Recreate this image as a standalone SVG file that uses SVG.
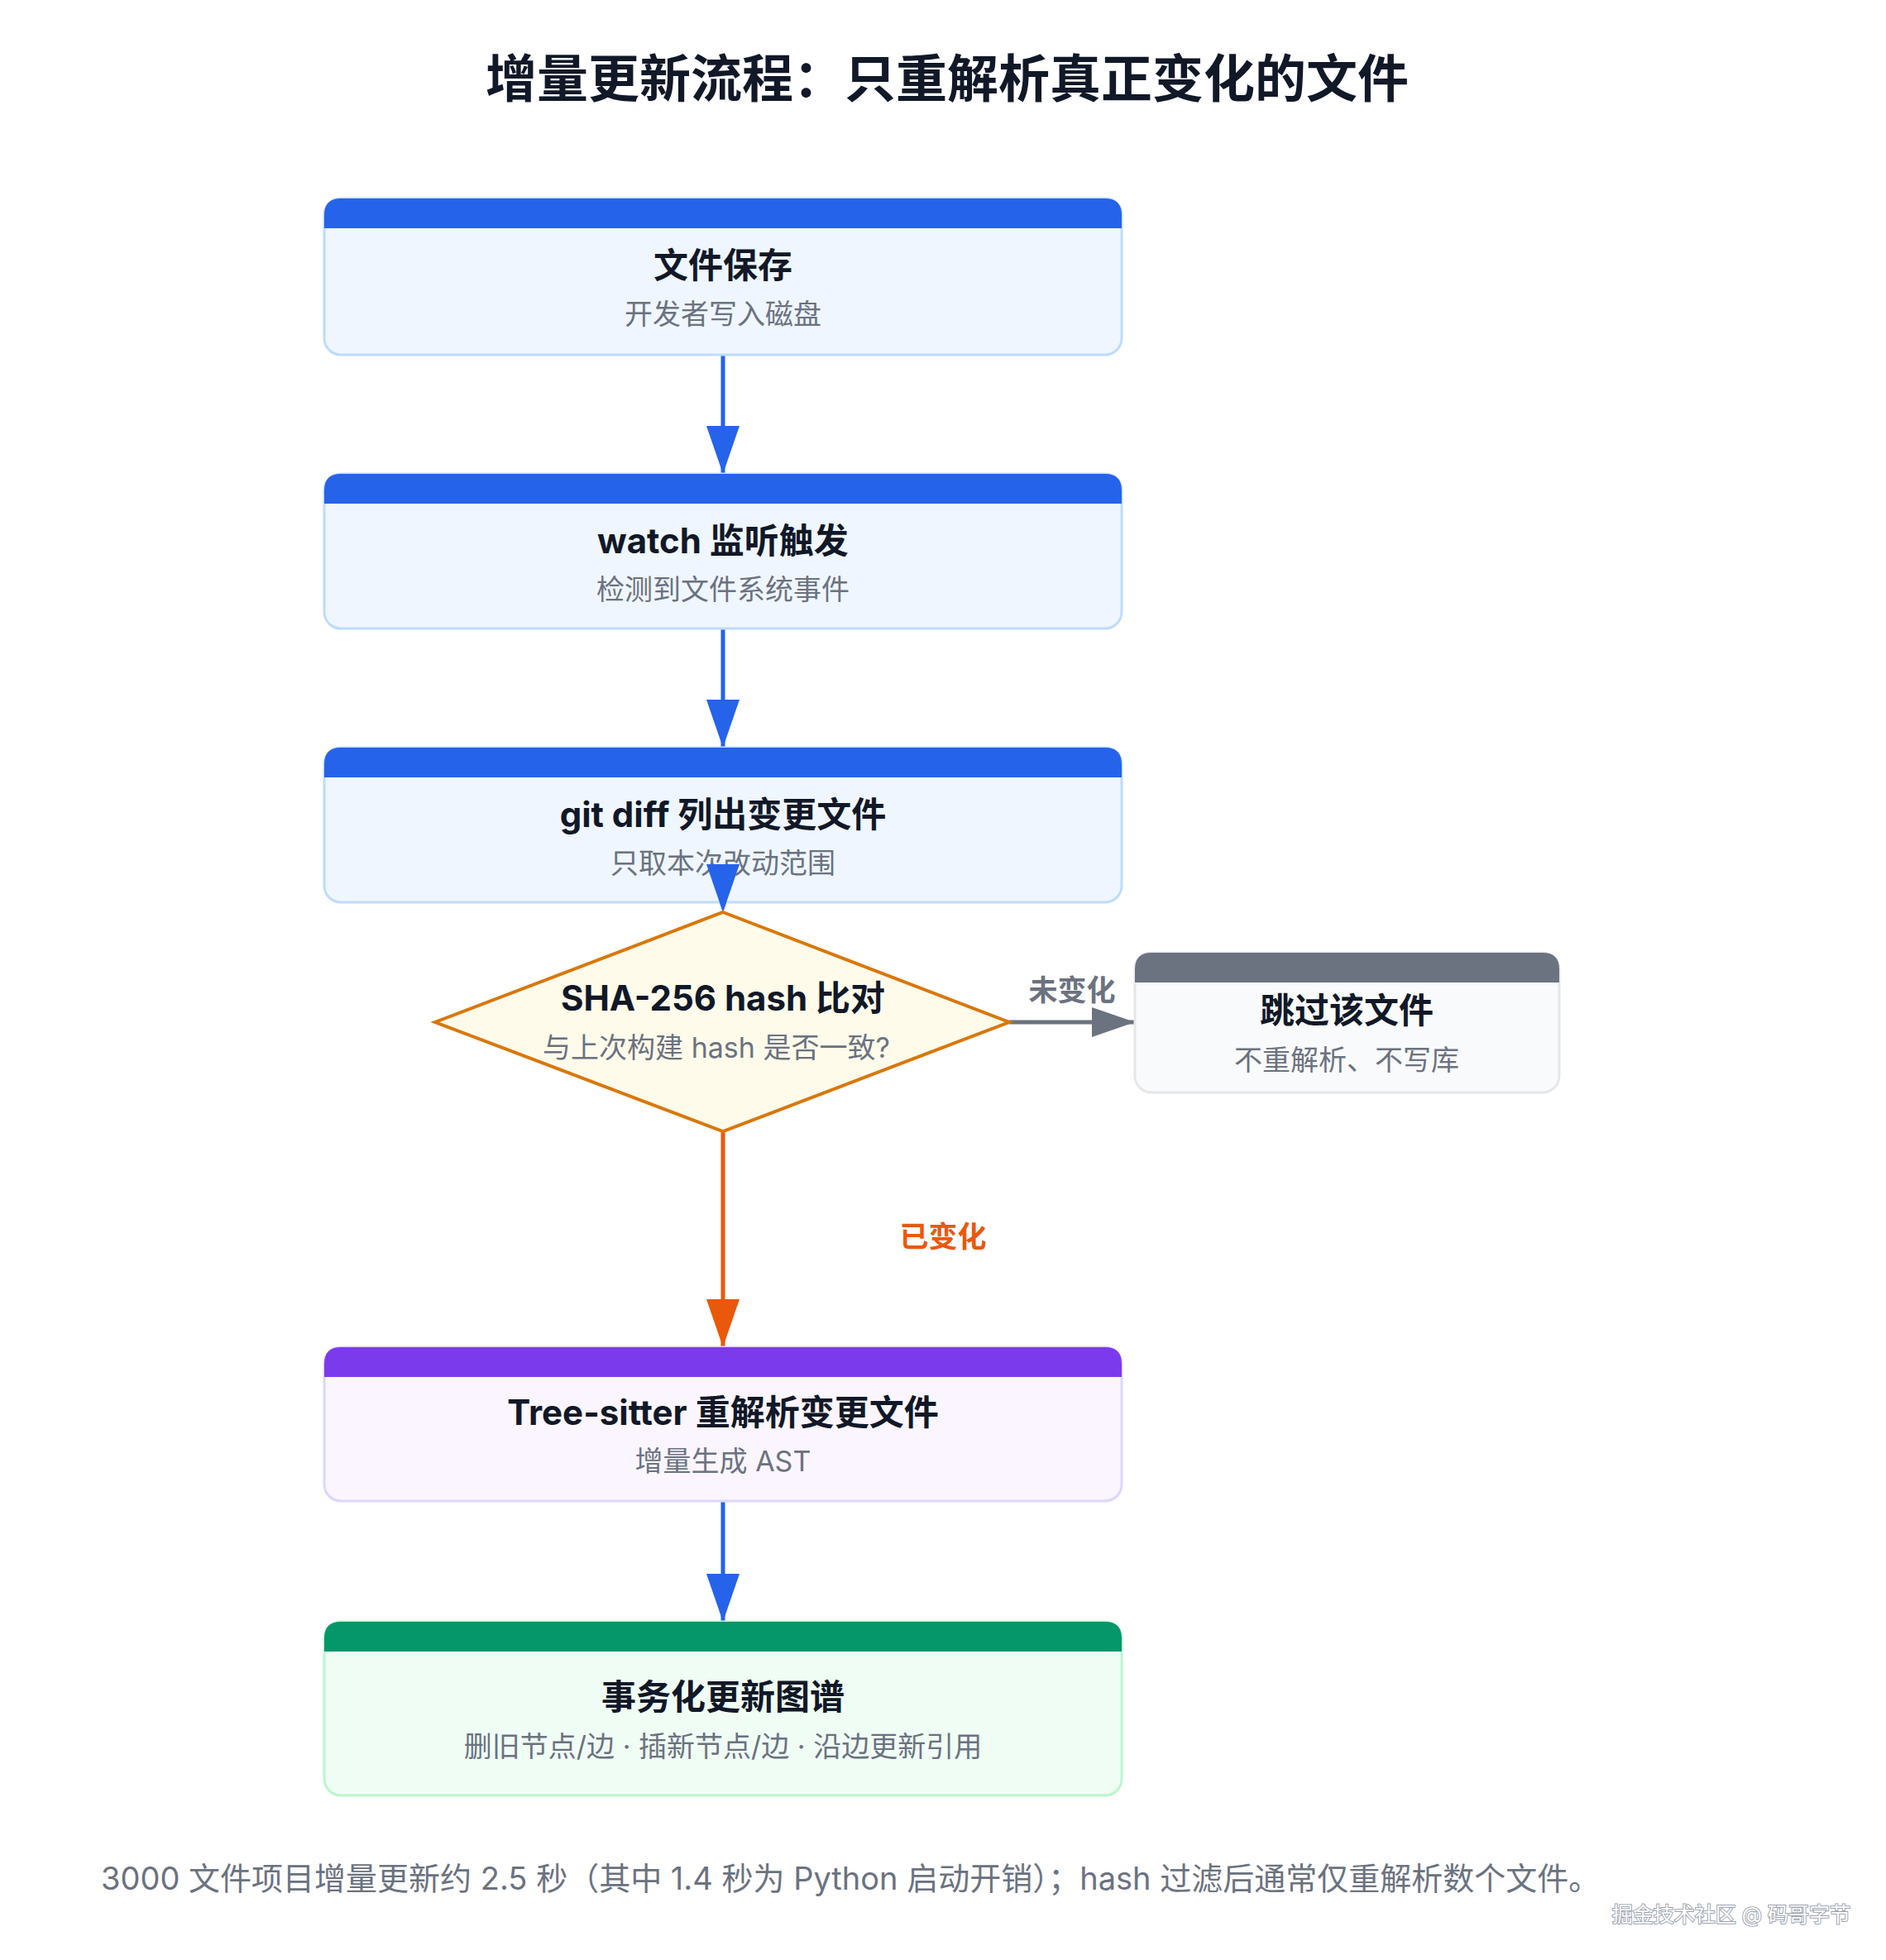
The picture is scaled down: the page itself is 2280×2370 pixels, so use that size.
<svg xmlns="http://www.w3.org/2000/svg" width="2280" height="2370" viewBox="0 0 2280 2370">
<style>
text{font-family:"Inter","Noto Sans CJK SC",sans-serif;text-anchor:middle}
.ttl{font-size:62px;font-weight:700;fill:#111827}
.nt{font-size:42px;font-weight:700;fill:#111827}
.ns{font-size:34px;fill:#6b7280}
.blue .body{fill:#eff6ff;stroke:#bfdbfe}
.blue .hd{fill:#2563eb}
.body{stroke-width:3}
.lbl{font-size:35px;font-weight:700}
</style>
<defs>
<marker id="ab" markerUnits="userSpaceOnUse" markerWidth="60" markerHeight="44" refX="58" refY="20" orient="auto"><path d="M0,0 L58,20 L0,40 Z" fill="#2563eb"/></marker>
<marker id="ao" markerUnits="userSpaceOnUse" markerWidth="60" markerHeight="44" refX="58" refY="20" orient="auto"><path d="M0,0 L58,20 L0,40 Z" fill="#ea580c"/></marker>
<marker id="ag" markerUnits="userSpaceOnUse" markerWidth="56" markerHeight="40" refX="52" refY="18" orient="auto"><path d="M0,0 L52,18 L0,36 Z" fill="#6b7280"/></marker>
</defs>
<rect width="2280" height="2370" fill="#fff"/>
<text class="ttl" x="1145" y="118">增量更新流程：只重解析真正变化的文件</text>

<g id="connectors">
<line x1="874" y1="429" x2="874" y2="573" stroke="#2563eb" stroke-width="5" marker-end="url(#ab)"/>
<line x1="874" y1="760" x2="874" y2="904" stroke="#2563eb" stroke-width="5" marker-end="url(#ab)"/>
<line x1="874" y1="1040" x2="874" y2="1103" stroke="none" stroke-width="5" marker-end="url(#ab)"/>
<line x1="1220" y1="1236" x2="1372" y2="1236" stroke="#6b7280" stroke-width="5" marker-end="url(#ag)"/>
<text class="lbl" x="1296" y="1210" fill="#6b7280">未变化</text>
<line x1="874" y1="1368" x2="874" y2="1629" stroke="#ea580c" stroke-width="5" marker-end="url(#ao)"/>
<text class="lbl" x="1140" y="1508" fill="#ea580c">已变化</text>
<line x1="874" y1="1815" x2="874" y2="1961" stroke="#2563eb" stroke-width="5" marker-end="url(#ab)"/>
</g>

<g id="n1" class="blue">
<rect class="body" x="392" y="240" width="964" height="189" rx="20"/>
<path class="hd" d="M392,276 V260 Q392,240 412,240 H1336 Q1356,240 1356,260 V276 Z"/>
<text class="nt" x="874" y="336">文件保存</text>
<text class="ns" x="874" y="392">开发者写入磁盘</text>
</g>
<g id="n2" class="blue">
<rect class="body" x="392" y="573" width="964" height="187" rx="20"/>
<path class="hd" d="M392,609 V593 Q392,573 412,573 H1336 Q1356,573 1356,593 V609 Z"/>
<text class="nt" x="874" y="669">watch 监听触发</text>
<text class="ns" x="874" y="725">检测到文件系统事件</text>
</g>
<g id="n3" class="blue">
<rect class="body" x="392" y="904" width="964" height="187" rx="20"/>
<path class="hd" d="M392,940 V924 Q392,904 412,904 H1336 Q1356,904 1356,924 V940 Z"/>
<text class="nt" x="874" y="1000">git diff 列出变更文件</text>
<text class="ns" x="874" y="1056">只取本次改动范围</text>
</g>
<g id="arrow3head">
<path d="M854,1045 L874,1103 L894,1045 Z" fill="#2563eb"/>
</g>
<g id="n4">
<polygon points="874,1103 1220,1236 874,1368 526,1236" fill="#fffbeb" stroke="#d97706" stroke-width="4"/>
<text class="nt" x="874" y="1222">SHA-256 hash 比对</text>
<text class="ns" x="866" y="1279">与上次构建 hash 是否一致?</text>
</g>
<g id="n5">
<rect x="1372" y="1152" width="513" height="169" rx="20" fill="#f9fafb" stroke="#e5e7eb" stroke-width="3"/>
<path d="M1372,1188 V1172 Q1372,1152 1392,1152 H1865 Q1885,1152 1885,1172 V1188 Z" fill="#6b7280"/>
<text class="nt" x="1628" y="1237">跳过该文件</text>
<text class="ns" x="1628" y="1294">不重解析、不写库</text>
</g>
<g id="n6">
<rect x="392" y="1629" width="964" height="186" rx="20" fill="#faf5ff" stroke="#ddd6fe" stroke-width="3"/>
<path d="M392,1665 V1649 Q392,1629 412,1629 H1336 Q1356,1629 1356,1649 V1665 Z" fill="#7c3aed"/>
<text class="nt" x="874" y="1723">Tree-sitter 重解析变更文件</text>
<text class="ns" x="874" y="1779">增量生成 AST</text>
</g>
<g id="n7">
<rect x="392" y="1961" width="964" height="210" rx="20" fill="#f0fdf4" stroke="#bbf7d0" stroke-width="3"/>
<path d="M392,1997 V1981 Q392,1961 412,1961 H1336 Q1356,1961 1356,1981 V1997 Z" fill="#059669"/>
<text class="nt" x="874" y="2067">事务化更新图谱</text>
<text class="ns" x="874" y="2124">删旧节点/边 · 插新节点/边 · 沿边更新引用</text>
</g>
<text x="122" y="2285" style="text-anchor:start;font-size:38px;fill:#6b7280">3000 文件项目增量更新约 2.5 秒（其中 1.4 秒为 Python 启动开销）；hash 过滤后通常仅重解析数个文件。</text>
<text x="2237" y="2324" style="text-anchor:end;font-size:25px;fill:#fff;stroke:#9ca3af;stroke-width:2;paint-order:stroke">掘金技术社区 @ 码哥字节</text>
</svg>
